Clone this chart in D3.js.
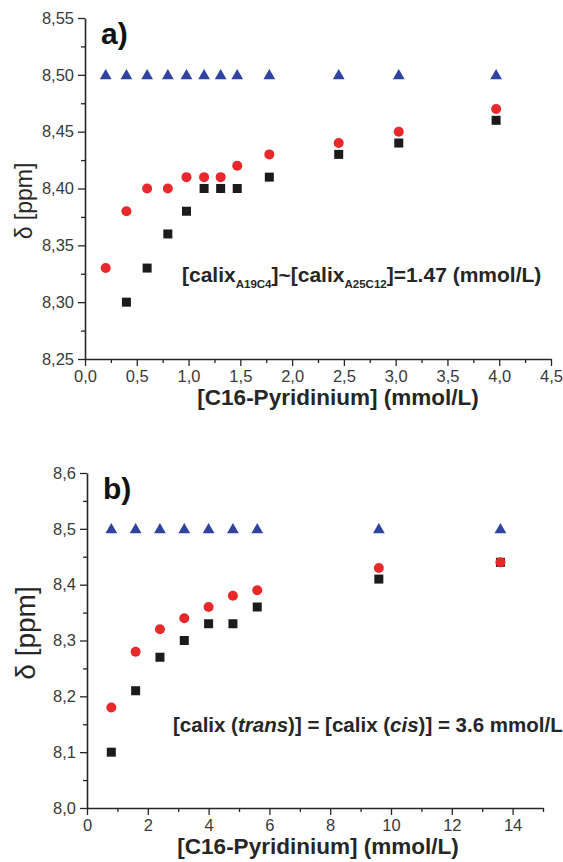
<!DOCTYPE html>
<html>
<head>
<meta charset="utf-8">
<script src="https://cdn.jsdelivr.net/npm/d3@7"></script>
<style>
  body { margin: 0; background: #fff; }
  svg { display: block; font-family: "Liberation Sans", Arial, sans-serif; }
</style>
</head>
<body>
<div id="chart"></div>
<script>
// panel a) data
const concA = [0.2, 0.4, 0.6, 0.8, 0.98, 1.15, 1.31, 1.47, 1.78, 2.45, 3.03, 3.97];
const shiftA_blue = [8.50, 8.50, 8.50, 8.50, 8.50, 8.50, 8.50, 8.50, 8.50, 8.50, 8.50, 8.50];
const shiftA_red = [8.33, 8.38, 8.40, 8.40, 8.41, 8.41, 8.41, 8.42, 8.43, 8.44, 8.45, 8.47];
const shiftA_black = [null, 8.30, 8.33, 8.36, 8.38, 8.40, 8.40, 8.40, 8.41, 8.43, 8.44, 8.46];
const xTicksA = [0, 0.5, 1, 1.5, 2, 2.5, 3, 3.5, 4, 4.5];
const yTicksA = [8.25, 8.30, 8.35, 8.40, 8.45, 8.50, 8.55];

// panel b) data
const concB = [0.8, 1.6, 2.4, 3.2, 4.0, 4.8, 5.6, 9.6, 13.6];
const shiftB_blue = [8.5, 8.5, 8.5, 8.5, 8.5, 8.5, 8.5, 8.5, 8.5];
const shiftB_red = [8.18, 8.28, 8.32, 8.34, 8.36, 8.38, 8.39, 8.43, 8.44];
const shiftB_black = [8.10, 8.21, 8.27, 8.30, 8.33, 8.33, 8.36, 8.41, 8.44];
const xTicksB = [0, 2, 4, 6, 8, 10, 12, 14];
const yTicksB = [8.0, 8.1, 8.2, 8.3, 8.4, 8.5, 8.6];

const W = 563, H = 862;
const colRed = "#e8282b", colBlack = "#1b1b1b", colBlue = "#2f43a0", txt = "#262626";

const svg = d3.select("#chart").append("svg")
    .attr("width", W)
    .attr("height", H);

const comma = f => (d => f(d).replace(".", ","));

function drawPanel(p) {
    var x = d3.scaleLinear().domain(p.xDomain).range([p.left, p.right]);
    var y = d3.scaleLinear().domain(p.yDomain).range([p.bottom, p.top]);
    var g = svg.append("g");

    // minor ticks
    g.append("g")
        .attr("transform", "translate(0," + p.bottom + ")")
        .call(d3.axisBottom(x).tickValues(p.xMinor).tickSize(4).tickFormat(""))
        .call(s => s.select(".domain").remove());
    g.append("g")
        .attr("transform", "translate(" + p.left + ",0)")
        .call(d3.axisLeft(y).tickValues(p.yMinor).tickSize(4).tickFormat(""))
        .call(s => s.select(".domain").remove());

    // major axes
    var xa = g.append("g")
        .attr("transform", "translate(0," + p.bottom + ")")
        .call(d3.axisBottom(x).tickValues(p.xTicks).tickSize(7).tickSizeOuter(0).tickPadding(4).tickFormat(p.xFormat));
    var ya = g.append("g")
        .attr("transform", "translate(" + p.left + ",0)")
        .call(d3.axisLeft(y).tickValues(p.yTicks).tickSize(7).tickSizeOuter(0).tickPadding(4).tickFormat(p.yFormat));

    g.selectAll(".tick line").attr("stroke", txt).attr("stroke-width", 1.3);
    g.selectAll(".domain").attr("stroke", txt).attr("stroke-width", 1.6);
    [xa, ya].forEach(a => a.selectAll("text")
        .attr("font-size", "16.5px")
        .attr("font-family", "Liberation Sans, Arial, sans-serif")
        .attr("fill", "#3a3a3a"));

    // markers
    var tri = d3.symbol().type(d3.symbolTriangle).size(60);
    g.selectAll(".tri").data(p.xs.map((c, i) => [c, p.blue[i]]))
        .enter().append("path")
        .attr("d", tri)
        .attr("transform", d => "translate(" + x(d[0]) + "," + (y(d[1]) + 1) + ")")
        .attr("fill", colBlue);

    g.selectAll(".sq").data(p.xs.map((c, i) => [c, p.black[i]]).filter(d => d[1] != null))
        .enter().append("rect")
        .attr("x", d => x(d[0]) - 4.5)
        .attr("y", d => y(d[1]) - 4.5)
        .attr("width", 9).attr("height", 9)
        .attr("fill", colBlack);

    g.selectAll(".ci").data(p.xs.map((c, i) => [c, p.red[i]]))
        .enter().append("circle")
        .attr("cx", d => x(d[0]))
        .attr("cy", d => y(d[1]))
        .attr("r", 5)
        .attr("fill", colRed);

    // panel letter
    g.append("text")
        .attr("x", p.left + 16).attr("y", p.top + 26)
        .attr("font-size", "30px").attr("font-weight", "bold").attr("fill", "#111")
        .text(p.letter);

    // axis titles
    g.append("text")
        .attr("transform", "translate(" + p.yTitleX + "," + p.yTitleY + ") rotate(-90)")
        .attr("text-anchor", "middle")
        .attr("font-size", p.yTitleSize).attr("fill", txt)
        .text("δ [ppm]");
    g.append("text")
        .attr("x", p.xTitleX).attr("y", p.bottom + 46)
        .attr("text-anchor", "middle")
        .attr("font-size", "22.5px").attr("font-weight", "bold").attr("fill", txt)
        .text("[C16-Pyridinium] (mmol/L)");

    return g;
}

var gA = drawPanel({
    xDomain: [0, 4.5], yDomain: [8.25, 8.55],
    left: 85, right: 551, top: 18, bottom: 359,
    xTicks: xTicksA, yTicks: yTicksA,
    xMinor: d3.range(0.25, 4.5, 0.5), yMinor: d3.range(8.275, 8.55, 0.05),
    xFormat: comma(d3.format(".1f")), yFormat: comma(d3.format(".2f")),
    xs: concA, blue: shiftA_blue, red: shiftA_red, black: shiftA_black,
    letter: "a)", yTitleX: 32, yTitleY: 201, yTitleSize: "23px", xTitleX: 338
});

var gB = drawPanel({
    xDomain: [0, 15], yDomain: [8.0, 8.6],
    left: 87, right: 543, top: 473, bottom: 808,
    xTicks: xTicksB, yTicks: yTicksB,
    xMinor: d3.range(1, 16, 2), yMinor: d3.range(8.05, 8.6, 0.1),
    xFormat: d3.format("d"), yFormat: comma(d3.format(".1f")),
    xs: concB, blue: shiftB_blue, red: shiftB_red, black: shiftB_black,
    letter: "b)", yTitleX: 35, yTitleY: 633, yTitleSize: "28px", xTitleX: 318
});

// annotations
var tA = gA.append("text")
    .attr("x", 182).attr("y", 282)
    .attr("font-size", "21px").attr("font-weight", "bold").attr("fill", txt);
tA.append("tspan").text("[calix");
tA.append("tspan").attr("font-size", "11.5px").attr("dy", 6).text("A19C4");
tA.append("tspan").attr("dy", -6).text("]~[calix");
tA.append("tspan").attr("font-size", "11.5px").attr("dy", 6).text("A25C12");
tA.append("tspan").attr("dy", -6).text("]=1.47 (mmol/L)");

var tB = gB.append("text")
    .attr("x", 173).attr("y", 732)
    .attr("font-size", "20.5px").attr("font-weight", "bold").attr("fill", txt);
tB.append("tspan").text("[calix (");
tB.append("tspan").attr("font-style", "italic").text("trans");
tB.append("tspan").text(")] = [calix (");
tB.append("tspan").attr("font-style", "italic").text("cis");
tB.append("tspan").text(")] = 3.6 mmol/L");
</script>
</body>
</html>
